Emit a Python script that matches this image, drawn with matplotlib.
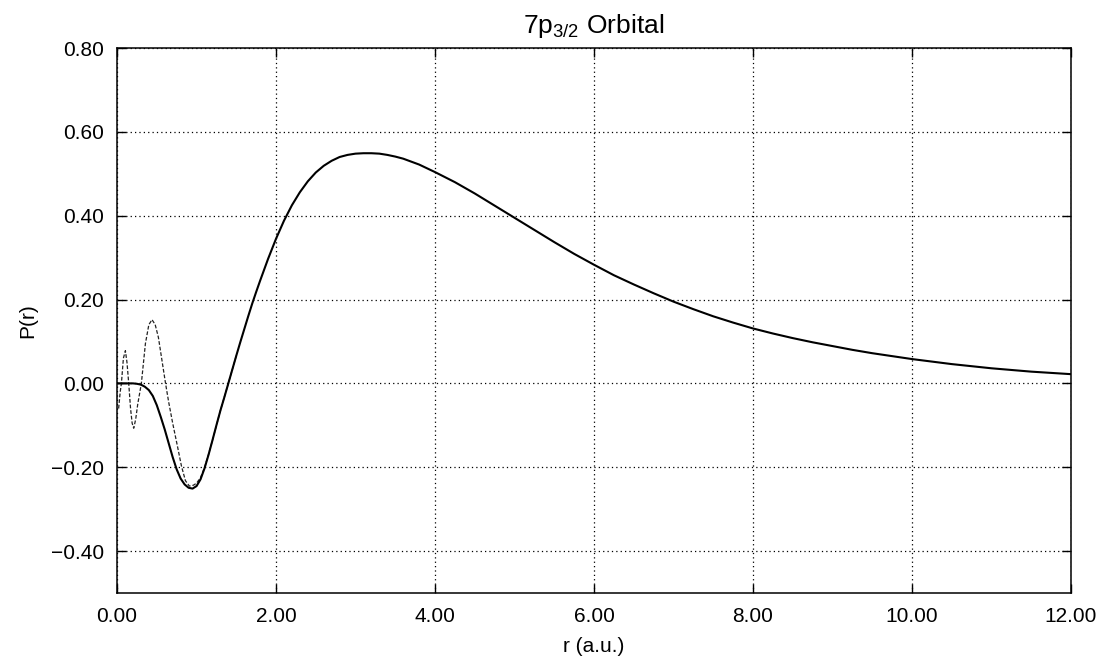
import matplotlib
matplotlib.use("Agg")
import matplotlib.pyplot as plt

plt.rcParams['font.family'] = ['Liberation Sans', 'DejaVu Sans']
plt.rcParams['mathtext.default'] = 'regular'
plt.rcParams['axes.unicode_minus'] = True

# Solid curve (large component)
r_solid = [0.0, 0.1, 0.2, 0.25, 0.3, 0.35, 0.4, 0.45, 0.5, 0.55, 0.6, 0.65, 0.7, 0.75,
           0.8, 0.85, 0.9, 0.95, 1.0, 1.05, 1.1, 1.15, 1.2, 1.25, 1.3, 1.35, 1.4, 1.45,
           1.5, 1.55, 1.6, 1.65, 1.7, 1.75, 1.8, 1.9, 2.0, 2.1, 2.2, 2.3, 2.4, 2.5, 2.6,
           2.7, 2.8, 2.9, 3.0, 3.1, 3.2, 3.3, 3.4, 3.5, 3.6, 3.7, 3.8, 3.9, 4.0, 4.25,
           4.5, 4.75, 5.0, 5.25, 5.5, 5.75, 6.0, 6.25, 6.5, 6.75, 7.0, 7.25, 7.5, 7.75,
           8.0, 8.25, 8.5, 8.75, 9.0, 9.25, 9.5, 9.75, 10.0, 10.25, 10.5, 10.75, 11.0,
           11.25, 11.5, 11.75, 12.0]
p_solid = [0.0, 0.0, 0.0, -0.001, -0.003, -0.008, -0.016, -0.03, -0.052, -0.08, -0.11,
           -0.143, -0.176, -0.205, -0.227, -0.241, -0.249, -0.251, -0.245, -0.229, -0.203,
           -0.171, -0.136, -0.1, -0.065, -0.033, 0.0, 0.033, 0.066, 0.098, 0.129, 0.16,
           0.19, 0.218, 0.245, 0.297, 0.345, 0.388, 0.425, 0.456, 0.482, 0.503, 0.519,
           0.531, 0.54, 0.545, 0.548, 0.549, 0.549, 0.548, 0.545, 0.541, 0.536, 0.529,
           0.522, 0.513, 0.504, 0.48, 0.453, 0.424, 0.395, 0.366, 0.337, 0.309, 0.283,
           0.258, 0.236, 0.215, 0.195, 0.177, 0.160, 0.145, 0.131, 0.119, 0.108, 0.098,
           0.089, 0.080, 0.072, 0.065, 0.058, 0.052, 0.046, 0.041, 0.036, 0.032, 0.028,
           0.025, 0.022]

# Dashed curve
r_dash = [0.02, 0.04, 0.055, 0.08, 0.105, 0.125, 0.147, 0.17, 0.19, 0.21, 0.235, 0.26,
          0.306, 0.357, 0.40, 0.44, 0.48, 0.52, 0.565, 0.61, 0.65, 0.70, 0.76, 0.81,
          0.86, 0.91, 0.96, 1.0, 1.05, 1.1, 1.15, 1.2, 1.3, 1.4, 1.5]
p_dash = [-0.06, -0.02, 0.0, 0.06, 0.078, 0.05, 0.0, -0.06, -0.095, -0.107, -0.085, -0.05,
          0.0, 0.095, 0.14, 0.152, 0.14, 0.11, 0.055, 0.0, -0.045, -0.095, -0.15, -0.197,
          -0.232, -0.245, -0.243, -0.238, -0.225, -0.201, -0.170, -0.136, -0.065, 0.0,
          0.066]

x_ticks = [0, 2, 4, 6, 8, 10, 12]
y_ticks = [-0.4, -0.2, 0.0, 0.2, 0.4, 0.6, 0.8]

fig = plt.figure(figsize=(11, 6.63), dpi=100)
ax = fig.add_axes([0.1064, 0.1056, 0.8672, 0.822])

ax.plot(r_dash, p_dash, color='#222222', lw=0.9, linestyle=(0, (3, 1.5)))
ax.plot(r_solid, p_solid, color='black', lw=1.5)

ax.set_xlim(0, 12)
ax.set_ylim(-0.5, 0.8)
ax.set_xticks(x_ticks)
ax.set_yticks(y_ticks)
ax.set_xticklabels([f"{v:.2f}" for v in x_ticks])
ax.set_yticklabels([f"{v:.2f}".replace('-', '\u2212') for v in y_ticks])

ax.tick_params(direction='in', length=6.5, width=1, top=True, right=True,
               labelsize=15)
ax.tick_params(axis='x', pad=10)
ax.tick_params(axis='y', pad=9.5)
for s in ax.spines.values():
    s.set_linewidth(1.1)

ax.grid(True, color='black', linestyle=(0, (1, 2.5)), linewidth=0.9)

ax.set_xlabel('r (a.u.)', fontsize=15, labelpad=8)
ax.set_ylabel('P(r)', fontsize=15, labelpad=10)
ax.set_title('7p$_{3/2}$ Orbital', fontsize=19, pad=11)

fig.savefig('out.png', dpi=100)
